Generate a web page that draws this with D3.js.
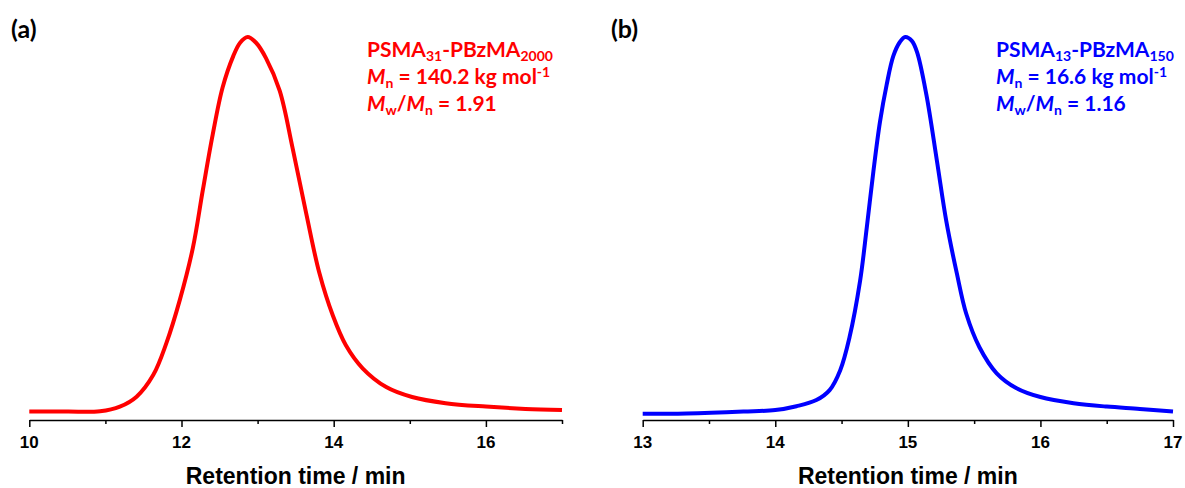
<!DOCTYPE html>
<html>
<head>
<meta charset="utf-8">
<title>GPC traces</title>
<style>
body { margin: 0; background: #fff; }
.axis path, .axis line { stroke: #000; stroke-width: 1.5px; }
.ticklab { font: bold 17px "Liberation Sans", Arial, sans-serif; fill: #000; }
.xlabel { font: bold 23px "Liberation Sans", Arial, sans-serif; fill: #000; }
.note { font-family: Lato, "Open Sans", sans-serif; font-weight: bold; font-size: 21px; }
.tag { font-family: Lato, "Open Sans", sans-serif; font-weight: bold; font-size: 25px; fill: #000; }
.trace { fill: none; stroke-width: 4px; stroke-linejoin: round; }
</style>
</head>
<body>
<script src="https://cdn.jsdelivr.net/npm/d3@7"></script>
<script>

// (a) PSMA31-PBzMA2000, normalised RI signal
var timeA   = [10.0, 10.5, 10.93, 11.19, 11.41, 11.63, 11.80, 11.98, 12.15, 12.28, 12.41, 12.54, 12.68, 12.77, 12.87, 12.98,
               13.11, 13.29, 13.46, 13.64, 13.81, 13.99, 14.16, 14.38, 14.69, 15.03, 15.47, 16.0, 16.52, 17.0];
var signalA = [0.022, 0.022, 0.023, 0.035, 0.061, 0.118, 0.200, 0.315, 0.45, 0.60, 0.745, 0.868, 0.95, 0.985, 1.0, 0.985,
               0.945, 0.860, 0.710, 0.538, 0.385, 0.272, 0.195, 0.135, 0.086, 0.060, 0.044, 0.035, 0.029, 0.026];

// (b) PSMA13-PBzMA150
var timeB   = [13.0, 13.33, 13.76, 14.0, 14.16, 14.31, 14.41, 14.49, 14.56, 14.64, 14.69, 14.74, 14.79, 14.84, 14.89, 14.94,
               14.98, 15.03, 15.07, 15.14, 15.22, 15.29, 15.37, 15.44, 15.54, 15.67, 15.82, 16.0, 16.25, 16.5, 16.75, 17.0];
var signalB = [0.016, 0.017, 0.022, 0.026, 0.036, 0.052, 0.078, 0.130, 0.216, 0.364, 0.502, 0.649, 0.779, 0.875, 0.950, 0.987,
               1.0, 0.99, 0.960, 0.849, 0.675, 0.519, 0.382, 0.278, 0.190, 0.122, 0.083, 0.060, 0.044, 0.035, 0.029, 0.022];

var majorA = [10, 12, 14, 16];
var minorA = [11, 13, 15, 17];
var majorB = [13, 14, 15, 16, 17];
var minorB = [13.5, 14.5, 15.5, 16.5];

var noteA = [
  [["PSMA"], ["31", "sub"], ["-PBzMA"], ["2000", "sub"]],
  [["M", "i"], ["n", "sub"], [" = 140.2 kg mol"], ["-1", "sup"]],
  [["M", "i"], ["w", "sub"], ["/"], ["M", "i"], ["n", "sub"], [" = 1.91"]]
];
var noteB = [
  [["PSMA"], ["13", "sub"], ["-PBzMA"], ["150", "sub"]],
  [["M", "i"], ["n", "sub"], [" = 16.6 kg mol"], ["-1", "sup"]],
  [["M", "i"], ["w", "sub"], ["/"], ["M", "i"], ["n", "sub"], [" = 1.16"]]
];

var width = 1185, height = 488;
var axisY = 420;

var svg = d3.select("body").append("svg")
    .attr("width", width)
    .attr("height", height);

var y = d3.scaleLinear().domain([0, 1]).range([axisY, 37]);

var panels = [
  {tag: "(a)", tagX: 11, t: timeA, s: signalA, dom: [10, 17], range: [29.3, 562],
   major: majorA, minor: minorA, color: "#ff0000", note: noteA, noteX: 367},
  {tag: "(b)", tagX: 611, t: timeB, s: signalB, dom: [13, 17], range: [642.7, 1173],
   major: majorB, minor: minorB, color: "#0000ff", note: noteB, noteX: 996}
];

panels.forEach(function(p) {
  var x = d3.scaleLinear().domain(p.dom).range(p.range);
  var pts = p.t.map(function(t, i) { return [t, p.s[i]]; });

  var line = d3.line()
      .x(function(d) { return x(d[0]); })
      .y(function(d) { return y(d[1]); })
      .curve(d3.curveCatmullRom.alpha(0.5));

  svg.append("path")
      .datum(pts)
      .attr("class", "trace")
      .attr("stroke", p.color)
      .attr("d", line);

  // minor ticks, then major ticks + axis line
  svg.append("g")
      .attr("class", "axis")
      .attr("transform", "translate(0," + axisY + ")")
      .call(d3.axisBottom(x).tickValues(p.minor).tickSize(4).tickFormat(""))
      .select(".domain").remove();

  svg.append("g")
      .attr("class", "axis")
      .attr("transform", "translate(0," + axisY + ")")
      .call(d3.axisBottom(x).tickValues(p.major).tickSize(7).tickSizeOuter(0).tickFormat(""));

  // tick labels
  svg.selectAll(null)
      .data(p.major)
      .enter().append("text")
      .attr("class", "ticklab")
      .attr("x", function(d) { return x(d); })
      .attr("y", axisY + 28)
      .attr("text-anchor", "middle")
      .text(function(d) { return d; });

  svg.append("text")
      .attr("class", "xlabel")
      .attr("x", (p.range[0] + p.range[1]) / 2)
      .attr("y", 484)
      .attr("text-anchor", "middle")
      .text("Retention time / min");

  svg.append("text")
      .attr("class", "tag")
      .attr("x", p.tagX)
      .attr("y", 38)
      .text(p.tag);

  // annotation with sub/superscripts
  p.note.forEach(function(segs, li) {
    var txt = svg.append("text")
        .attr("class", "note")
        .attr("fill", p.color)
        .attr("x", p.noteX)
        .attr("y", 57 + li * 27);
    var shift = 0;
    segs.forEach(function(sg) {
      var want = sg[1] == "sub" ? 4 : (sg[1] == "sup" ? -7 : 0);
      var ts = txt.append("tspan")
          .attr("dy", want - shift)
          .text(sg[0]);
      shift = want;
      if (sg[1] == "sub" || sg[1] == "sup") ts.style("font-size", "14px");
      if (sg[1] == "i") ts.style("font-style", "italic");
    });
  });
});

</script>
</body>
</html>
